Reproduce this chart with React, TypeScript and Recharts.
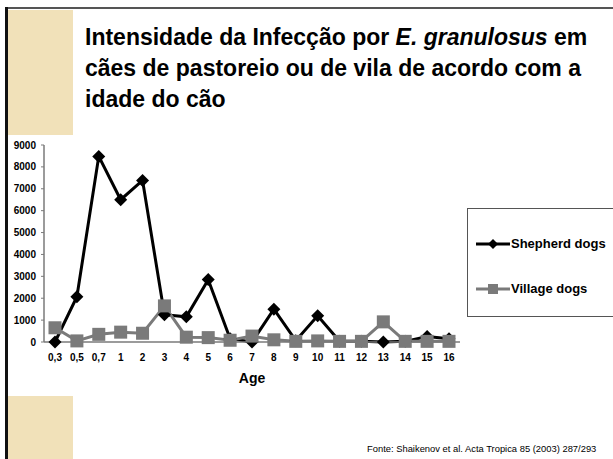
import React from 'react';
import { LineChart, Line, XAxis, YAxis } from 'recharts';

const ages = ['0,3', '0,5', '0,7', '1', '2', '3', '4', '5', '6', '7', '8', '9', '10', '11', '12', '13', '14', '15', '16'];
const shepherd = [0, 2070, 8480, 6500, 7380, 1250, 1150, 2850, 150, 0, 1500, 60, 1200, 30, 30, 0, 30, 250, 150];
const village = [650, 50, 350, 450, 400, 1650, 220, 200, 80, 270, 100, 30, 50, 30, 30, 920, 30, 30, 30];
const yTicks = [0, 1000, 2000, 3000, 4000, 5000, 6000, 7000, 8000, 9000];
const seriesNames = ['Shepherd dogs', 'Village dogs'];

const data = ages.map((age, i) => ({ age, shepherd: shepherd[i], village: village[i] }));

const FONT = '"Liberation Sans", Arial, sans-serif';
const GRAY = '#7a7a7a';

const Diamond = (props: any) => {
  const { cx, cy } = props;
  if (cx == null || cy == null) return null;
  const r = 6.5;
  return <path d={`M${cx},${cy - r}L${cx + r},${cy}L${cx},${cy + r}L${cx - r},${cy}Z`} fill="#000" />;
};

const Square = (props: any) => {
  const { cx, cy } = props;
  if (cx == null || cy == null) return null;
  const s = 13;
  return <rect x={cx - s / 2} y={cy - s / 2} width={s} height={s} fill={GRAY} />;
};

const LegendBox = () => (
  <div
    style={{
      position: 'absolute',
      left: 467,
      top: 208,
      width: 170,
      height: 109,
      borderTop: '1px solid #555',
      borderLeft: '1px solid #555',
      borderBottom: '1px solid #555',
      background: '#fff',
      boxSizing: 'border-box',
      fontFamily: FONT,
      fontWeight: 'bold',
      fontSize: 13,
      color: '#000',
      whiteSpace: 'nowrap',
    }}
  >
    <div style={{ position: 'absolute', left: 8, top: 27, display: 'flex', alignItems: 'center' }}>
      <svg width={34} height={12}>
        <line x1={0} y1={6} x2={34} y2={6} stroke="#000" strokeWidth={3} />
        <path d="M17,1L22,6L17,11L12,6Z" fill="#000" />
      </svg>
      <span style={{ marginLeft: 1 }}>{seriesNames[0]}</span>
    </div>
    <div style={{ position: 'absolute', left: 8, top: 72, display: 'flex', alignItems: 'center' }}>
      <svg width={34} height={12}>
        <line x1={0} y1={6} x2={34} y2={6} stroke={GRAY} strokeWidth={3} />
        <rect x={12} y={1} width={10} height={10} fill={GRAY} />
      </svg>
      <span style={{ marginLeft: 1 }}>{seriesNames[1]}</span>
    </div>
  </div>
);

export default function App() {
  return (
    <div style={{ position: 'absolute', left: 0, top: 0, width: 613, height: 459, background: '#fff', overflow: 'hidden' }}>
      {/* slide decoration */}
      <div style={{ position: 'absolute', left: 5, top: 7, width: 608, height: 2, background: '#555' }} />
      <div style={{ position: 'absolute', left: 5, top: 7, width: 2.5, height: 452, background: '#111' }} />
      <div style={{ position: 'absolute', left: 8, top: 10, width: 65, height: 125, background: '#f1e1b9' }} />
      <div style={{ position: 'absolute', left: 8, top: 396, width: 65, height: 63, background: '#f1e1b9' }} />

      <div
        style={{
          position: 'absolute',
          left: 85,
          top: 22,
          width: 525,
          fontFamily: FONT,
          fontWeight: 'bold',
          fontSize: 23,
          lineHeight: '31px',
          color: '#000',
          whiteSpace: 'nowrap',
        }}
      >
        Intensidade da Infecção por <i>E. granulosus</i> em
        <br />
        cães de pastoreio ou de vila de acordo com a
        <br />
        idade do cão
      </div>

      <div style={{ position: 'absolute', left: 0, top: 0 }}>
        <LineChart width={613} height={459} data={data} margin={{ top: 145, right: 153, left: 4, bottom: 87 }}>
          <XAxis
            dataKey="age"
            interval={0}
            padding={{ left: 11, right: 11 }}
            axisLine={{ stroke: GRAY, strokeWidth: 1.5 }}
            tickLine={false}
            tickSize={0}
            tickMargin={12}
            height={30}
            tick={{ fill: '#000', fontSize: 10, fontWeight: 'bold', fontFamily: FONT }}
            label={{ value: 'Age', position: 'bottom', offset: 1, fill: '#000', fontSize: 14, fontWeight: 'bold', fontFamily: FONT }}
          />
          <XAxis xAxisId="top" dataKey="age" orientation="top" height={0} tick={false} tickLine={false} axisLine={{ stroke: GRAY, strokeWidth: 1.5 }} />
          <YAxis
            domain={[0, 9000]}
            ticks={yTicks}
            interval={0}
            width={40}
            axisLine={{ stroke: GRAY, strokeWidth: 1.5 }}
            tickLine={{ stroke: GRAY }}
            tickSize={3}
            tickMargin={5}
            tick={{ fill: '#000', fontSize: 10, fontWeight: 'bold', fontFamily: FONT }}
          />
          <YAxis yAxisId="r" orientation="right" width={0} domain={[0, 9000]} tick={false} tickLine={false} axisLine={{ stroke: GRAY, strokeWidth: 1.5 }} />
          <Line
            dataKey="shepherd"
            name={seriesNames[0]}
            type="linear"
            stroke="#000"
            strokeWidth={3}
            dot={<Diamond />}
            activeDot={false}
            isAnimationActive={false}
          />
          <Line
            dataKey="village"
            name={seriesNames[1]}
            type="linear"
            stroke={GRAY}
            strokeWidth={3}
            dot={<Square />}
            activeDot={false}
            isAnimationActive={false}
          />
        </LineChart>
      </div>

      <LegendBox />

      <div
        style={{
          position: 'absolute',
          left: 367,
          top: 443,
          fontFamily: FONT,
          fontSize: 9.4,
          color: '#000',
          whiteSpace: 'nowrap',
        }}
      >
        Fonte: Shaikenov et al. Acta Tropica 85 (2003) 287/293
      </div>
    </div>
  );
}
